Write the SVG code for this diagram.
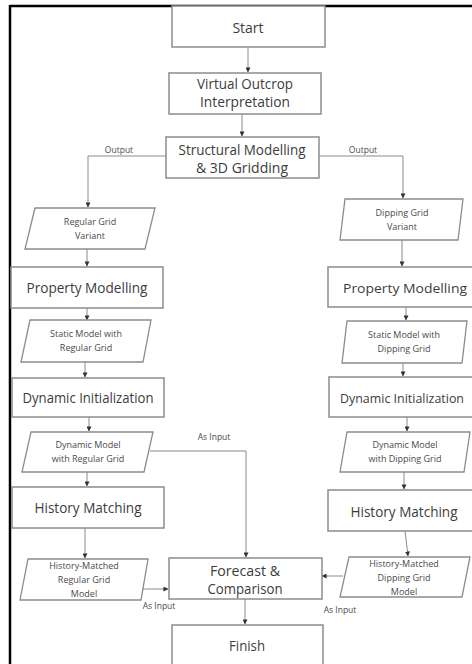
<svg xmlns="http://www.w3.org/2000/svg" width="472" height="664" viewBox="0 0 472 664">
<defs>
<marker id="ah" viewBox="0 0 6 6" refX="5.5" refY="3" markerWidth="5" markerHeight="5" orient="auto" markerUnits="userSpaceOnUse">
<path d="M0,0 L6,3 L0,6 z" fill="#333"/>
</marker>
<style>
.box{fill:#fff;stroke:#8c8c8c;stroke-width:1.5}
.para{fill:#fff;stroke:#8c8c8c;stroke-width:1.3}
.t{font-family:"Open Sans","Liberation Sans",sans-serif;font-size:14px;fill:#3c3c3c;text-anchor:middle}
.t2{font-family:"Open Sans","Liberation Sans",sans-serif;font-size:12px;fill:#3c3c3c;text-anchor:middle}
.s{font-family:"Open Sans","Liberation Sans",sans-serif;font-size:9px;fill:#4a4a4a;text-anchor:middle}
.l{font-family:"Open Sans","Liberation Sans",sans-serif;font-size:8.5px;fill:#4a4a4a;text-anchor:middle}
.c{fill:none;stroke:#8a8a8a;stroke-width:1}
</style>
</defs>
<rect width="472" height="664" fill="#fff"/>
<g id="frame">
<line x1="10" y1="6" x2="472" y2="6" stroke="#000" stroke-width="2.5"/>
<line x1="10" y1="5" x2="10" y2="664" stroke="#000" stroke-width="2.5"/>
</g>
<g id="connectors">
<path class="c" d="M248,47 V72" marker-end="url(#ah)"/>
<path class="c" d="M242,114 V136" marker-end="url(#ah)"/>
<path class="c" d="M166,156 H88 V207" marker-end="url(#ah)"/>
<path class="c" d="M319,156 H403 V198" marker-end="url(#ah)"/>
<path class="c" d="M87,249 V266" marker-end="url(#ah)"/>
<path class="c" d="M87,308 V320" marker-end="url(#ah)"/>
<path class="c" d="M85,362 V377" marker-end="url(#ah)"/>
<path class="c" d="M89,417 V431" marker-end="url(#ah)"/>
<path class="c" d="M87,472 V486" marker-end="url(#ah)"/>
<path class="c" d="M85,528 V558" marker-end="url(#ah)"/>
<path class="c" d="M142,589 H168" marker-end="url(#ah)"/>
<path class="c" d="M150,451 H246 V557" marker-end="url(#ah)"/>
<path class="c" d="M245,599 V624" marker-end="url(#ah)"/>
<path class="c" d="M402,240 V266" marker-end="url(#ah)"/>
<path class="c" d="M406,307 V320" marker-end="url(#ah)"/>
<path class="c" d="M403,363 V376" marker-end="url(#ah)"/>
<path class="c" d="M407,417 V431" marker-end="url(#ah)"/>
<path class="c" d="M404,472 V489" marker-end="url(#ah)"/>
<path class="c" d="M405,531 L408,556" marker-end="url(#ah)"/>
<path class="c" d="M343,576 H322" marker-end="url(#ah)"/>
<text class="l" x="119" y="153">Output</text>
<text class="l" x="363" y="153">Output</text>
<text class="l" x="214" y="440">As Input</text>
<text class="l" x="159" y="609">As Input</text>
<text class="l" x="340" y="613">As Input</text>
</g>
<g id="start">
<rect class="box" x="172" y="6" width="153" height="41"/>
<text class="t" x="248" y="33">Start</text>
</g>
<g id="virtual-outcrop">
<rect class="box" x="169" y="73" width="152" height="41"/>
<text class="t" x="245" y="89" textLength="96" lengthAdjust="spacingAndGlyphs">Virtual Outcrop</text>
<text class="t" x="245" y="107" textLength="90" lengthAdjust="spacingAndGlyphs">Interpretation</text>
</g>
<g id="structural">
<rect class="box" x="166" y="137" width="153" height="41"/>
<text class="t" x="242" y="155" textLength="127" lengthAdjust="spacingAndGlyphs">Structural Modelling</text>
<text class="t" x="242" y="173" textLength="92" lengthAdjust="spacingAndGlyphs">&amp; 3D Gridding</text>
</g>
<g id="regular-variant">
<polygon class="para" points="35,208 155,208 145,249 25,249"/>
<text class="s" x="90" y="225">Regular Grid</text>
<text class="s" x="90" y="239">Variant</text>
</g>
<g id="property-left">
<rect class="box" x="11" y="267" width="152" height="41"/>
<text class="t" x="87" y="293" textLength="121" lengthAdjust="spacingAndGlyphs">Property Modelling</text>
</g>
<g id="static-regular">
<polygon class="para" points="30,320 151,320 143,362 21,362"/>
<text class="s" x="86" y="337">Static Model with</text>
<text class="s" x="86" y="351">Regular Grid</text>
</g>
<g id="dyninit-left">
<rect class="box" x="12" y="378" width="152" height="39"/>
<text class="t" x="88" y="403" textLength="131" lengthAdjust="spacingAndGlyphs">Dynamic Initialization</text>
</g>
<g id="dynmodel-regular">
<polygon class="para" points="31,432 153,432 144,472 22,472"/>
<text class="s" x="88" y="448">Dynamic Model</text>
<text class="s" x="88" y="462">with Regular Grid</text>
</g>
<g id="history-left">
<rect class="box" x="12" y="487" width="152" height="41"/>
<text class="t" x="88" y="513" textLength="107" lengthAdjust="spacingAndGlyphs">History Matching</text>
</g>
<g id="hm-regular">
<polygon class="para" points="28,559 148,559 141,600 20,600"/>
<text class="s" x="84" y="569">History-Matched</text>
<text class="s" x="84" y="583">Regular Grid</text>
<text class="s" x="84" y="597">Model</text>
</g>
<g id="forecast">
<rect class="box" x="169" y="558" width="153" height="41"/>
<text class="t" x="245" y="576" textLength="70" lengthAdjust="spacingAndGlyphs">Forecast &amp;</text>
<text class="t" x="245" y="594" textLength="75" lengthAdjust="spacingAndGlyphs">Comparison</text>
</g>
<g id="finish">
<rect class="box" x="172" y="625" width="151" height="50"/>
<text class="t" x="247" y="651" textLength="36" lengthAdjust="spacingAndGlyphs">Finish</text>
</g>
<g id="dipping-variant">
<polygon class="para" points="345,199 463,199 458,240 340,240"/>
<text class="s" x="402" y="216">Dipping Grid</text>
<text class="s" x="402" y="230">Variant</text>
</g>
<g id="property-right">
<rect class="box" x="328" y="267" width="152" height="40"/>
<text class="t2" x="405" y="293" textLength="124" lengthAdjust="spacingAndGlyphs">Property Modelling</text>
</g>
<g id="static-dipping">
<polygon class="para" points="347,321 467,321 462,363 342,363"/>
<text class="s" x="404" y="338">Static Model with</text>
<text class="s" x="404" y="352">Dipping Grid</text>
</g>
<g id="dyninit-right">
<rect class="box" x="329" y="377" width="151" height="40"/>
<text class="t2" x="402" y="403" textLength="124" lengthAdjust="spacingAndGlyphs">Dynamic Initialization</text>
</g>
<g id="dynmodel-dipping">
<polygon class="para" points="347,432 470,432 464,472 340,472"/>
<text class="s" x="405" y="448">Dynamic Model</text>
<text class="s" x="405" y="462">with Dipping Grid</text>
</g>
<g id="history-right">
<rect class="box" x="328" y="490" width="152" height="41"/>
<text class="t" x="404" y="517" textLength="107" lengthAdjust="spacingAndGlyphs">History Matching</text>
</g>
<g id="hm-dipping">
<polygon class="para" points="349,557 470,557 462,597 340,597"/>
<text class="s" x="404" y="567">History-Matched</text>
<text class="s" x="404" y="581">Dipping Grid</text>
<text class="s" x="404" y="595">Model</text>
</g>
</svg>
